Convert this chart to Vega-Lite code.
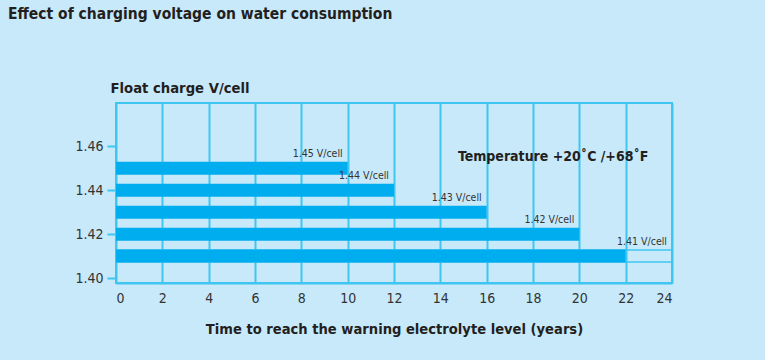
{
  "$schema": "https://vega.github.io/schema/vega-lite/v6.json",
  "autosize": "none",
  "width": 556,
  "height": 180,
  "padding": {"left": 116, "top": 103, "right": 93, "bottom": 77},
  "background": "#c8e9fa",
  "title": {
    "text": "Effect of charging voltage on water consumption",
    "anchor": "start",
    "frame": "group",
    "dx": -108,
    "offset": 58,
    "font": "DejaVu Sans Condensed, sans-serif",
    "fontSize": 15.5,
    "fontWeight": "bold",
    "color": "#231f20"
  },
  "config": {
    "view": {"stroke": "#3ec6f0", "strokeWidth": 2},
    "font": "DejaVu Sans Condensed, sans-serif"
  },
  "data": {
    "values": [
      {"voltage": 1.45, "label": "1.45 V/cell", "years": 10, "years_max": 10},
      {"voltage": 1.44, "label": "1.44 V/cell", "years": 12, "years_max": 12},
      {"voltage": 1.43, "label": "1.43 V/cell", "years": 16, "years_max": 16},
      {"voltage": 1.42, "label": "1.42 V/cell", "years": 20, "years_max": 20},
      {"voltage": 1.41, "label": "1.41 V/cell", "years": 22, "years_max": 24}
    ]
  },
  "encoding": {
    "y": {
      "field": "voltage",
      "type": "quantitative",
      "scale": {"domain": [1.4, 1.4775], "nice": false, "zero": false},
      "axis": {
        "values": [1.40, 1.42, 1.44, 1.46],
        "format": ".2f",
        "grid": false,
        "domain": false,
        "tickColor": "#3ec6f0",
        "tickWidth": 2,
        "tickSize": 9,
        "labelFontSize": 14,
        "labelColor": "#333333",
        "labelPadding": 4,
        "title": "Float charge V/cell",
        "titleAngle": 0,
        "titleAlign": "left",
        "titleBaseline": "alphabetic",
        "titleX": -6,
        "titleY": -11,
        "titleFontSize": 14.7,
        "titleFontWeight": "bold",
        "titleColor": "#231f20"
      }
    }
  },
  "layer": [
    {
      "transform": [{"filter": "datum.years_max > datum.years"}],
      "mark": {"type": "bar", "orient": "horizontal", "height": 12, "fill": null, "fillOpacity": 0, "stroke": "#3ec6f0", "strokeWidth": 1.5},
      "encoding": {
        "x": {"field": "years_max", "type": "quantitative"}
      }
    },
    {
      "mark": {"type": "bar", "orient": "horizontal", "height": 13, "color": "#00aeef"},
      "encoding": {
        "x": {
          "field": "years",
          "type": "quantitative",
          "scale": {"domain": [0, 24], "nice": false},
          "axis": {
            "values": [0, 2, 4, 6, 8, 10, 12, 14, 16, 18, 20, 22, 24],
            "grid": true,
            "gridColor": "#3ec6f0",
            "gridWidth": 2,
            "gridOpacity": 1,
            "domainColor": "#3ec6f0",
            "domainWidth": 2,
            "ticks": false,
            "labelFontSize": 14,
            "labelColor": "#333333",
            "labelPadding": 8,
            "title": "Time to reach the warning electrolyte level (years)",
            "titleFontSize": 14.6,
            "titleFontWeight": "bold",
            "titleColor": "#231f20",
            "titleBaseline": "alphabetic",
            "titleY": 50
          }
        }
      }
    },
    {
      "mark": {"type": "text", "align": "right", "baseline": "alphabetic", "dx": -5, "dy": -11, "fontSize": 10.5, "color": "#333333"},
      "encoding": {
        "x": {"field": "years_max", "type": "quantitative"},
        "text": {"field": "label"}
      }
    },
    {
      "transform": [{"filter": "datum.voltage == 1.45"}],
      "mark": {"type": "text", "align": "left", "baseline": "alphabetic", "fontSize": 14, "fontWeight": "bold", "color": "#231f20"},
      "encoding": {
        "x": {"datum": 14.76},
        "y": {"datum": 1.4535},
        "text": {"value": "Temperature +20˚C /+68˚F"}
      }
    }
  ]
}
